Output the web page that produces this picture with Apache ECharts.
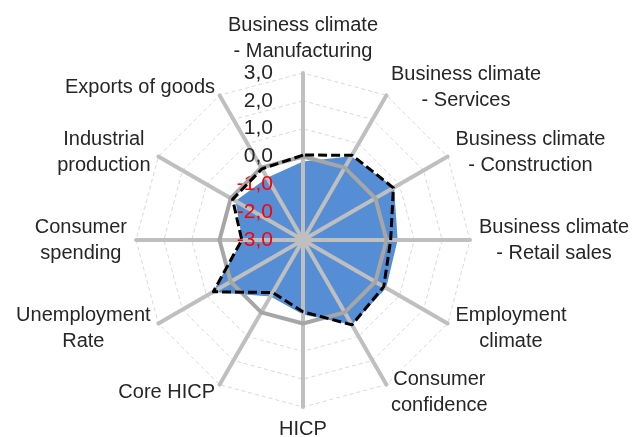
<!DOCTYPE html>
<html>
<head>
<meta charset="utf-8">
<script src="https://cdn.jsdelivr.net/npm/echarts@6/dist/echarts.min.js"></script>
<style>
  html, body { margin: 0; padding: 0; background: #fff; }
  #container { width: 635px; height: 437px; }
</style>
</head>
<body>
<div id="container"></div>
<script>
var dom = document.getElementById("container");
var myChart = echarts.init(dom);

// clockwise from the top
var categories = [
    "Business climate\n- Manufacturing",
    "Business climate\n- Services",
    "Business climate\n- Construction",
    "Business climate\n- Retail sales",
    "Employment\nclimate",
    "Consumer\nconfidence",
    "HICP",
    "Core HICP",
    "Unemployment\nRate",
    "Consumer\nspending",
    "Industrial\nproduction",
    "Exports of goods"
];
var latestValues   = [-0.18, 0.47, 0.78, 0.40, 0.45, 0.52, -0.32, -0.66, 0.74, -0.82, -0.20, -0.42];
var previousValues = [0.05, 0.52, 0.75, 0.15, 0.35, 0.52, -0.42, -0.82, 0.72, -0.80, -0.08, -0.05];
var zeroValues     = [0, 0, 0, 0, 0, 0, 0, 0, 0, 0, 0, 0];
var axisMin = -3;
var axisMax = 3;

// echarts lays radar indicators out counter-clockwise, so flip the order
function toRadarOrder(arr) {
    return [arr[0]].concat(arr.slice(1).reverse());
}

function makeIndicators(withLabels) {
    return toRadarOrder(categories).map(function (name, i) {
        var ind = { name: name, min: axisMin, max: axisMax };
        if (withLabels && i === 0) {
            ind.axisLabel = { show: true };
        }
        return ind;
    });
}

var textColor = '#262626';
var fontFamily = '"Liberation Sans", Arial, sans-serif';

var option = {
    animation: false,
    textStyle: { fontFamily: fontFamily },
    radar: [
        {
            // grid + category names, under the blue area
            z: 0,
            center: [303, 240],
            radius: 167,
            shape: 'polygon',
            splitNumber: 6,
            indicator: makeIndicators(false),
            axisName: {
                color: textColor,
                fontSize: 20,
                fontFamily: fontFamily,
                formatter: function (name) {
                    return name.split('\n').map(function (l) {
                        return '{c|' + l + '}';
                    }).join('\n');
                },
                rich: {
                    c: { align: 'center', fontSize: 20, lineHeight: 26, color: textColor, fontFamily: fontFamily }
                }
            },
            nameGap: 9,
            axisLine: { show: false },
            axisTick: { show: false },
            axisLabel: { show: false },
            splitLine: { lineStyle: { color: '#d9d9d9', width: 1, type: [4, 3] } },
            splitArea: { show: false }
        },
        {
            // spokes + tick labels, over the blue area
            z: 2,
            center: [303, 240],
            radius: 167,
            shape: 'polygon',
            splitNumber: 6,
            indicator: makeIndicators(true),
            axisName: { show: false },
            axisLine: { show: true, lineStyle: { color: '#bfbfbf', width: 4 } },
            axisTick: { show: false },
            axisLabel: {
                show: false,
                fontSize: 21,
                fontFamily: fontFamily,
                margin: 30,
                color: function (v) {
                    return Number(v) < 0 ? '#ff0000' : textColor;
                },
                formatter: function (v) {
                    return Number(v).toFixed(1).replace('.', ',');
                }
            },
            splitLine: { show: false },
            splitArea: { show: false }
        }
    ],
    series: [
        {
            type: 'radar',
            radarIndex: 0,
            z: 1,
            symbol: 'none',
            lineStyle: { width: 0 },
            areaStyle: { color: '#558ed5', opacity: 1 },
            data: [{ value: toRadarOrder(latestValues) }]
        },
        {
            type: 'radar',
            radarIndex: 1,
            z: 3,
            symbol: 'none',
            lineStyle: { color: '#a6a6a6', width: 4 },
            data: [{ value: toRadarOrder(zeroValues) }]
        },
        {
            type: 'radar',
            radarIndex: 1,
            z: 4,
            symbol: 'none',
            lineStyle: { color: '#000000', width: 3, type: [9, 4] },
            data: [{ value: toRadarOrder(previousValues) }]
        }
    ]
};

myChart.setOption(option);
</script>
</body>
</html>
